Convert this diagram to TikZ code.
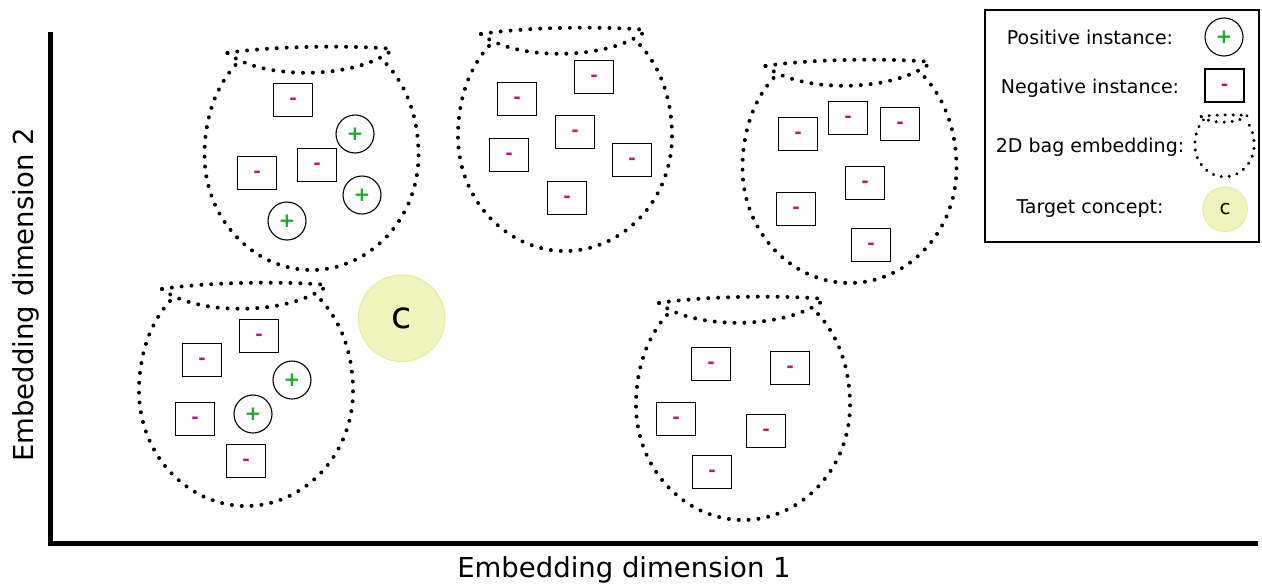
\documentclass[tikz,border=0pt]{standalone}
\usepackage{fontspec}
\setmainfont{DejaVu Sans}
\usetikzlibrary{decorations.markings}
\definecolor{minuscol}{RGB}{180,25,125}
\definecolor{pluscol}{RGB}{30,170,40}
\definecolor{conceptfill}{RGB}{240,244,188}
\definecolor{conceptdraw}{RGB}{228,236,160}
\tikzset{
 bagline/.style={postaction={decorate, decoration={markings, mark=between positions 0 and 1 step 9.9pt with {\fill[black] (0,0) circle (2pt);}}}},
 smallbagline/.style={postaction={decorate, decoration={markings, mark=between positions 0 and 1 step 8pt with {\fill[black] (0,0) circle (1.7pt);}}}},
 negbox/.style={draw=black, line width=1.1pt, rectangle, minimum width=39pt, minimum height=33pt, inner sep=0pt, text=minuscol, font=\fontsize{18}{18}\selectfont\bfseries},
 posbox/.style={draw=black, line width=1.1pt, circle, minimum size=38pt, inner sep=0pt, text=pluscol, font=\fontsize{20}{20}\selectfont\bfseries},
 axisline/.style={line width=4.3pt},
 concept/.style={circle, fill=conceptfill, draw=conceptdraw, line width=1pt, inner sep=0pt},
 axlabel/.style={font=\fontsize{27.5}{27.5}\selectfont},
 legtext/.style={font=\fontsize{19}{19}\selectfont, anchor=base},
}
\newcommand{\negsym}{\raisebox{-0.27em}[0pt][0pt]{-}}
\newcommand{\possym}{\raisebox{-0.33em}[0pt][0pt]{+}}
\newcommand{\bagpot}[4]{%
 \begin{scope}[shift={(#1,#2)},scale=#3]
  \path[#4] (-84,6) .. controls (-40,-1) and (40,-2) .. (82,2);
  \path[#4] (-84,6) .. controls (-50,33) and (45,33) .. (82,2);
  \path[#4] (-76,18) .. controls (-96,40) and (-107,72) .. (-107,108) .. controls (-107,172) and (-58,223) .. (0,223) .. controls (58,223) and (107,172) .. (107,108) .. controls (107,72) and (96,40) .. (75,17);
 \end{scope}}
\begin{document}
\begin{tikzpicture}[x=1pt,y=-1pt]
\useasboundingbox (0,0) rectangle (1262,584);
% axes
\coordinate (ytop) at (50.5,32);
\coordinate (origin) at (50.5,543.5);
\coordinate (xend) at (1258,543.5);
\draw[axisline] (ytop) -- (origin) -- (xend);
\node[axlabel, anchor=base] (xlab) at (624,577) {Embedding dimension 1};
\node[axlabel, anchor=base, rotate=90] (ylab) at (34,295) {Embedding dimension 2};
% bags
\bagpot{311.5}{47}{1}{bagline}
\bagpot{565}{28}{1}{bagline}
\bagpot{849.5}{60}{1}{bagline}
\bagpot{246}{283}{1}{bagline}
\bagpot{743}{297}{1}{bagline}
% bag 1
\node[negbox] (b1n1) at (293,100) {\negsym};
\node[negbox] (b1n2) at (257,173) {\negsym};
\node[negbox] (b1n3) at (317,165) {\negsym};
\node[posbox] (b1p1) at (355,134) {\possym};
\node[posbox] (b1p2) at (362,195) {\possym};
\node[posbox] (b1p3) at (287,221) {\possym};
% bag 2
\node[negbox] (b2n1) at (594,77) {\negsym};
\node[negbox] (b2n2) at (517,99) {\negsym};
\node[negbox] (b2n3) at (575,132) {\negsym};
\node[negbox] (b2n4) at (509,155) {\negsym};
\node[negbox] (b2n5) at (632,160) {\negsym};
\node[negbox] (b2n6) at (567,198) {\negsym};
% bag 3
\node[negbox] (b3n1) at (798,134) {\negsym};
\node[negbox] (b3n2) at (848,118) {\negsym};
\node[negbox] (b3n3) at (900,124) {\negsym};
\node[negbox] (b3n4) at (865,183) {\negsym};
\node[negbox] (b3n5) at (796,209) {\negsym};
\node[negbox] (b3n6) at (871,245) {\negsym};
% bag 4
\node[negbox] (b4n1) at (259,336) {\negsym};
\node[negbox] (b4n2) at (202,360) {\negsym};
\node[negbox] (b4n3) at (195,419) {\negsym};
\node[negbox] (b4n4) at (246,461) {\negsym};
\node[posbox] (b4p1) at (292,380) {\possym};
\node[posbox] (b4p2) at (253,414) {\possym};
% bag 5
\node[negbox] (b5n1) at (711,364) {\negsym};
\node[negbox] (b5n2) at (790,368) {\negsym};
\node[negbox] (b5n3) at (676,419) {\negsym};
\node[negbox] (b5n4) at (766,431) {\negsym};
\node[negbox] (b5n5) at (712,472) {\negsym};
% concept
\node[concept, minimum size=86.6pt, font=\fontsize{37}{37}\selectfont] (concept) at (401.7,318.3) {c};
% legend
\draw[line width=1.2pt] (985,10) rectangle (1259,242);
\node[legtext] (lt1) at (1090,44.3) {Positive instance:};
\node[legtext] (lt2) at (1090,93.3) {Negative instance:};
\node[legtext] (lt3) at (1090,152.3) {2D bag embedding:};
\node[legtext] (lt4) at (1090,213.7) {Target concept:};
\node[posbox] (lp) at (1224,37) {\possym};
\node[negbox] (ln) at (1224.5,85.5) {\negsym};
\bagpot{1224.5}{115}{0.277}{smallbagline}
\node[concept, minimum size=44.6pt, font=\fontsize{20}{20}\selectfont] (lc) at (1225,209.3) {c};
\end{tikzpicture}
\end{document}
